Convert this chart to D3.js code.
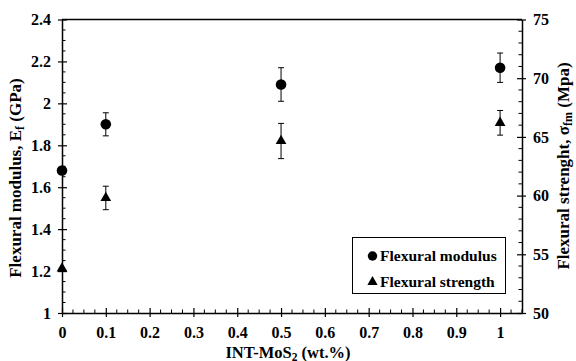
<!DOCTYPE html>
<html>
<head>
<meta charset="utf-8">
<script src="https://cdn.jsdelivr.net/npm/d3@7"></script>
<style>
html,body{margin:0;padding:0;background:#fff;}
</style>
</head>
<body>
<svg id="c" width="576" height="361"></svg>
<script>
const xValues = [0, 0.1, 0.5, 1];
const modulus = [1.68, 1.90, 2.09, 2.17];
const modulusErr = [0, 0.055, 0.08, 0.07];
const strength = [53.8, 59.8, 64.65, 66.2];
const strengthErr = [0, 1.0, 1.5, 1.05];
const xTicks = [0, 0.1, 0.2, 0.3, 0.4, 0.5, 0.6, 0.7, 0.8, 0.9, 1];
const leftTicks = [1, 1.2, 1.4, 1.6, 1.8, 2, 2.2, 2.4];
const rightTicks = [50, 55, 60, 65, 70, 75];
const seriesNames = ["Flexural modulus", "Flexural strength"];

const FONT = "'Liberation Serif','Times New Roman',Times,serif";
const svg = d3.select("#c");
const L = 62, R = 522, T = 19.5, B = 313;
const x = d3.scaleLinear().domain([0, 1.05]).range([L, R]);
const yL = d3.scaleLinear().domain([1, 2.4]).range([B, T]);
const yR = d3.scaleLinear().domain([50, 75]).range([B, T]);
const fmt = d => String(+d.toFixed(2));

function styleText(sel, size){
  sel.attr("font-family", FONT).attr("font-weight", "bold").attr("font-size", size).attr("fill", "#000");
}

svg.append("line").attr("x1",L).attr("x2",R).attr("y1",T).attr("y2",T).attr("stroke","#000").attr("stroke-width",1.5);

// X axis
const gx = svg.append("g").attr("transform",`translate(0,${B})`);
gx.call(d3.axisBottom(x).tickValues(xTicks).tickFormat(fmt).tickSizeInner(4).tickSizeOuter(0).tickPadding(10));
gx.select(".domain").attr("stroke-width",1.5);
gx.selectAll(".tick line").attr("y1",-5).attr("y2",4).attr("stroke-width",1.2);
styleText(gx.selectAll("text"), 16);
const xMinor = d3.range(0, 1.0501, 0.025).filter(v => Math.abs(v*10 - Math.round(v*10)) > 1e-6);
gx.selectAll(".mn").data(xMinor).enter().append("line")
  .attr("x1",d=>x(d)).attr("x2",d=>x(d)).attr("y1",0).attr("y2",-3.5).attr("stroke","#000");

// Left axis
const gl = svg.append("g").attr("transform",`translate(${L},0)`);
gl.call(d3.axisLeft(yL).tickValues(leftTicks).tickFormat(fmt).tickSizeInner(4).tickSizeOuter(0).tickPadding(7));
gl.select(".domain").attr("stroke-width",1.5);
gl.selectAll(".tick line").attr("x1",-4).attr("x2",5).attr("stroke-width",1.2);
styleText(gl.selectAll("text"), 16);
const lMinor = d3.range(1, 2.4001, 0.05).filter(v => Math.abs(v*5 - Math.round(v*5)) > 1e-6);
gl.selectAll(".mn").data(lMinor).enter().append("line")
  .attr("x1",0).attr("x2",3.5).attr("y1",d=>yL(d)).attr("y2",d=>yL(d)).attr("stroke","#000");

// Right axis
const gr = svg.append("g").attr("transform",`translate(${R},0)`);
gr.call(d3.axisRight(yR).tickValues(rightTicks).tickSizeInner(4).tickSizeOuter(0).tickPadding(7));
gr.select(".domain").attr("stroke-width",1.5);
gr.selectAll(".tick line").attr("x1",-5).attr("x2",4).attr("stroke-width",1.2);
styleText(gr.selectAll("text"), 16);
const rMinor = d3.range(50, 75.001, 1).filter(v => v % 5 !== 0);
gr.selectAll(".mn").data(rMinor).enter().append("line")
  .attr("x1",0).attr("x2",-3.5).attr("y1",d=>yR(d)).attr("y2",d=>yR(d)).attr("stroke","#000");

function errBars(vals, errs, ys){
  const g = svg.append("g").attr("stroke","#000").attr("stroke-width",1);
  xValues.forEach((xv,i)=>{
    if(!errs[i]) return;
    const cx = x(xv), y1 = ys(vals[i]+errs[i]), y2 = ys(vals[i]-errs[i]);
    g.append("line").attr("x1",cx).attr("x2",cx).attr("y1",y1).attr("y2",y2);
    g.append("line").attr("x1",cx-3).attr("x2",cx+3).attr("y1",y1).attr("y2",y1);
    g.append("line").attr("x1",cx-3).attr("x2",cx+3).attr("y1",y2).attr("y2",y2);
  });
}
errBars(modulus, modulusErr, yL);
errBars(strength, strengthErr, yR);

const circ = d3.symbol().type(d3.symbolCircle).size(88);
const tri = d3.symbol().type(d3.symbolTriangle).size(50);
svg.append("g").selectAll("path").data(xValues).enter().append("path")
  .attr("d",circ).attr("transform",(d,i)=>`translate(${x(d)},${yL(modulus[i])})`).attr("fill","#000");
svg.append("g").selectAll("path").data(xValues).enter().append("path")
  .attr("d",tri).attr("transform",(d,i)=>`translate(${x(d)},${yR(strength[i])})`).attr("fill","#000");

// legend
const lg = svg.append("g");
lg.append("rect").attr("x",352.5).attr("y",237.5).attr("width",153).attr("height",56)
  .attr("fill","#fff").attr("stroke","#000").attr("stroke-width",1);
lg.append("path").attr("d",d3.symbol().type(d3.symbolCircle).size(70)).attr("transform","translate(372.5,256)").attr("fill","#000");
lg.append("path").attr("d",d3.symbol().type(d3.symbolTriangle).size(46)).attr("transform","translate(372.5,282)").attr("fill","#000");
styleText(lg.append("text").attr("x",380).attr("y",261).text(seriesNames[0]), 15.5);
styleText(lg.append("text").attr("x",380).attr("y",287).text(seriesNames[1]), 15.5);

// axis titles
const xt = svg.append("text").attr("x",288).attr("y",358).attr("text-anchor","middle");
styleText(xt, 16.5);
xt.append("tspan").text("INT-MoS");
xt.append("tspan").attr("dy",2.5).attr("font-size",11.5).text("2");
xt.append("tspan").attr("dy",-2.5).text(" (wt.%)");

const lt = svg.append("text").attr("transform",`translate(21,${178}) rotate(-90)`).attr("text-anchor","middle");
styleText(lt, 17);
lt.append("tspan").text("Flexural modulus, E");
lt.append("tspan").attr("dy",3).attr("font-size",12).text("f");
lt.append("tspan").attr("dy",-3).text(" (GPa)");

const rt = svg.append("text").attr("transform",`translate(569,${166}) rotate(-90)`).attr("text-anchor","middle");
styleText(rt, 17);
rt.append("tspan").text("Flexural strenght, σ");
rt.append("tspan").attr("dy",3).attr("font-size",12).text("fm");
rt.append("tspan").attr("dy",-3).text(" (Mpa)");
</script>
</body>
</html>
